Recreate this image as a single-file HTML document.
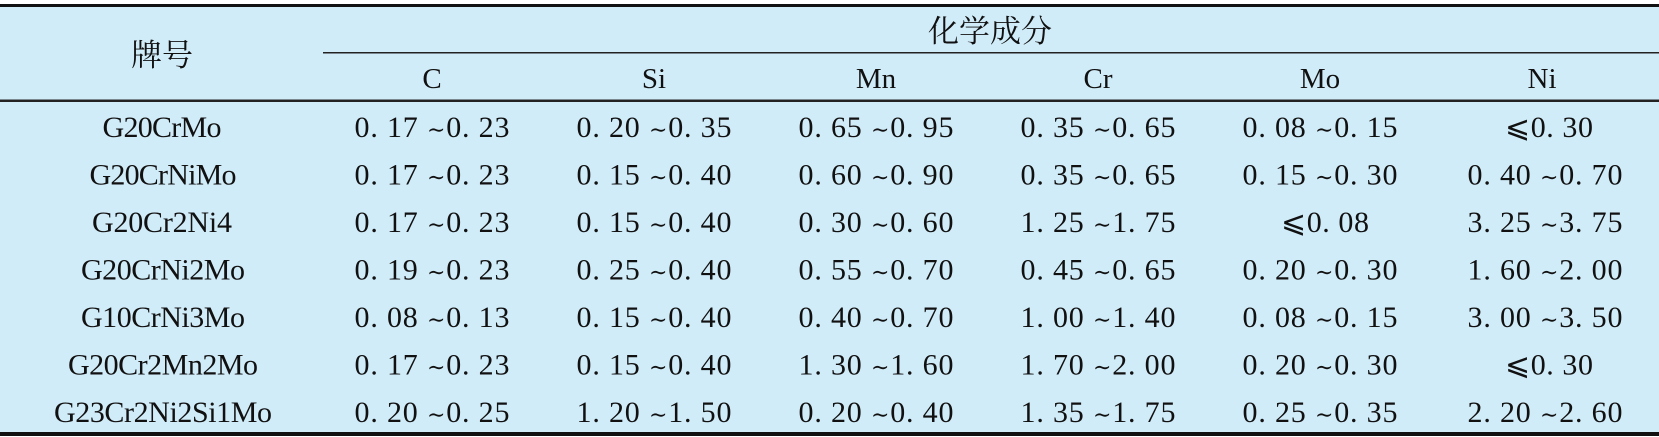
<!DOCTYPE html>
<html><head><meta charset="utf-8"><style>
html,body{margin:0;padding:0;background:#fff;}
svg{display:block;}
text{font-family:"Liberation Serif","Noto Serif CJK SC",serif;fill:#111;}
.le{font-family:"DejaVu Serif","DejaVu Sans",serif;}
.t{font-family:"DejaVu Serif","DejaVu Sans",serif;font-size:22px;}
</style></head><body>
<svg width="1659" height="437" viewBox="0 0 1659 437" xmlns="http://www.w3.org/2000/svg">
<rect x="0" y="0" width="1659" height="437" fill="#fff"/>
<rect x="0" y="6" width="1659" height="427" fill="#d1ecf9"/>
<rect x="0" y="4" width="1659" height="3" fill="#111"/>
<rect x="323" y="52" width="1336" height="1.5" fill="#222"/>
<rect x="0" y="99.5" width="1659" height="2.5" fill="#222"/>
<rect x="0" y="432" width="1659" height="4" fill="#111"/>
<g font-size="31" text-anchor="middle">
<text x="162" y="66">牌号</text>
<text x="990" y="42">化学成分</text>
</g>
<g font-size="29" text-anchor="middle">
<text x="432" y="88">C</text>
<text x="654" y="88">Si</text>
<text x="876" y="88">Mn</text>
<text x="1098" y="88">Cr</text>
<text x="1320" y="88">Mo</text>
<text x="1542" y="88">Ni</text>
</g>
<g font-size="30" text-anchor="middle" lengthAdjust="spacingAndGlyphs">
<text x="162" y="137" textLength="119">G20CrMo</text>
<text x="163" y="184.5" textLength="147">G20CrNiMo</text>
<text x="162" y="232" textLength="140">G20Cr2Ni4</text>
<text x="163" y="279.5" textLength="164">G20CrNi2Mo</text>
<text x="163" y="327" textLength="164">G10CrNi3Mo</text>
<text x="163" y="374.5" textLength="190">G20Cr2Mn2Mo</text>
<text x="163" y="422" textLength="218">G23Cr2Ni2Si1Mo</text>
</g>
<g font-size="30" text-anchor="middle">
<g transform="translate(0,137)">
<text x="432" textLength="155">0. 17 <tspan class="t">∼</tspan>0. 23</text><text x="654" textLength="155">0. 20 <tspan class="t">∼</tspan>0. 35</text><text x="876" textLength="155">0. 65 <tspan class="t">∼</tspan>0. 95</text><text x="1098" textLength="155">0. 35 <tspan class="t">∼</tspan>0. 65</text><text x="1320" textLength="155">0. 08 <tspan class="t">∼</tspan>0. 15</text><text x="1549" textLength="88"><tspan class="le">⩽</tspan>0. 30</text>
</g>
<g transform="translate(0,184.5)">
<text x="432" textLength="155">0. 17 <tspan class="t">∼</tspan>0. 23</text><text x="654" textLength="155">0. 15 <tspan class="t">∼</tspan>0. 40</text><text x="876" textLength="155">0. 60 <tspan class="t">∼</tspan>0. 90</text><text x="1098" textLength="155">0. 35 <tspan class="t">∼</tspan>0. 65</text><text x="1320" textLength="155">0. 15 <tspan class="t">∼</tspan>0. 30</text><text x="1545" textLength="155">0. 40 <tspan class="t">∼</tspan>0. 70</text>
</g>
<g transform="translate(0,232)">
<text x="432" textLength="155">0. 17 <tspan class="t">∼</tspan>0. 23</text><text x="654" textLength="155">0. 15 <tspan class="t">∼</tspan>0. 40</text><text x="876" textLength="155">0. 30 <tspan class="t">∼</tspan>0. 60</text><text x="1098" textLength="155">1. 25 <tspan class="t">∼</tspan>1. 75</text><text x="1325" textLength="88"><tspan class="le">⩽</tspan>0. 08</text><text x="1545" textLength="155">3. 25 <tspan class="t">∼</tspan>3. 75</text>
</g>
<g transform="translate(0,279.5)">
<text x="432" textLength="155">0. 19 <tspan class="t">∼</tspan>0. 23</text><text x="654" textLength="155">0. 25 <tspan class="t">∼</tspan>0. 40</text><text x="876" textLength="155">0. 55 <tspan class="t">∼</tspan>0. 70</text><text x="1098" textLength="155">0. 45 <tspan class="t">∼</tspan>0. 65</text><text x="1320" textLength="155">0. 20 <tspan class="t">∼</tspan>0. 30</text><text x="1545" textLength="155">1. 60 <tspan class="t">∼</tspan>2. 00</text>
</g>
<g transform="translate(0,327)">
<text x="432" textLength="155">0. 08 <tspan class="t">∼</tspan>0. 13</text><text x="654" textLength="155">0. 15 <tspan class="t">∼</tspan>0. 40</text><text x="876" textLength="155">0. 40 <tspan class="t">∼</tspan>0. 70</text><text x="1098" textLength="155">1. 00 <tspan class="t">∼</tspan>1. 40</text><text x="1320" textLength="155">0. 08 <tspan class="t">∼</tspan>0. 15</text><text x="1545" textLength="155">3. 00 <tspan class="t">∼</tspan>3. 50</text>
</g>
<g transform="translate(0,374.5)">
<text x="432" textLength="155">0. 17 <tspan class="t">∼</tspan>0. 23</text><text x="654" textLength="155">0. 15 <tspan class="t">∼</tspan>0. 40</text><text x="876" textLength="155">1. 30 <tspan class="t">∼</tspan>1. 60</text><text x="1098" textLength="155">1. 70 <tspan class="t">∼</tspan>2. 00</text><text x="1320" textLength="155">0. 20 <tspan class="t">∼</tspan>0. 30</text><text x="1549" textLength="88"><tspan class="le">⩽</tspan>0. 30</text>
</g>
<g transform="translate(0,422)">
<text x="432" textLength="155">0. 20 <tspan class="t">∼</tspan>0. 25</text><text x="654" textLength="155">1. 20 <tspan class="t">∼</tspan>1. 50</text><text x="876" textLength="155">0. 20 <tspan class="t">∼</tspan>0. 40</text><text x="1098" textLength="155">1. 35 <tspan class="t">∼</tspan>1. 75</text><text x="1320" textLength="155">0. 25 <tspan class="t">∼</tspan>0. 35</text><text x="1545" textLength="155">2. 20 <tspan class="t">∼</tspan>2. 60</text>
</g>
</g>
</svg>
</body></html>
